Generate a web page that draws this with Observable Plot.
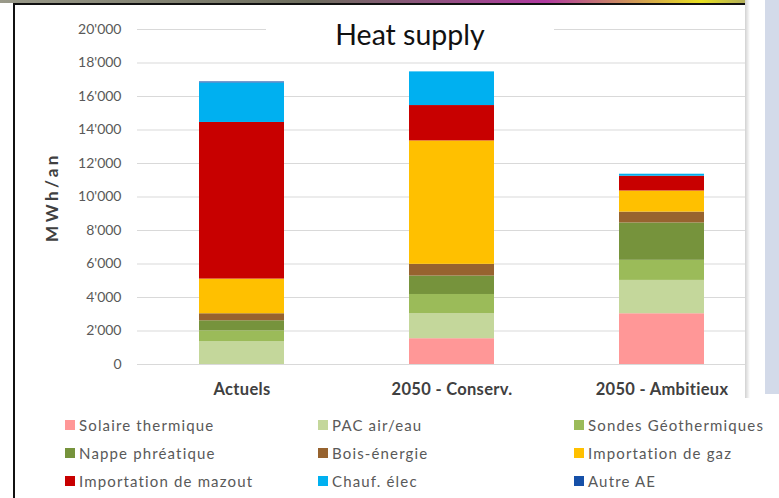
<!DOCTYPE html>
<html>
<head>
<meta charset="utf-8">
<script src="https://cdn.jsdelivr.net/npm/d3@7"></script>
<script src="https://cdn.jsdelivr.net/npm/@observablehq/plot@0.6"></script>
<style>
  html, body { margin: 0; padding: 0; background: #fff; }
  body { width: 779px; height: 498px; position: relative; overflow: hidden; font-family: Lato, "Open Sans", sans-serif; }
  #chart { position: absolute; left: 0; top: 0; }
  #chart svg g[aria-label^="y-axis"] text { font-size: 14px; fill: #595959; }
  #chart svg g[aria-label^="x-axis"] text { font-size: 16.5px; font-weight: bold; fill: #404040; letter-spacing: 0.3px; }
  #chart svg g[aria-label="text"] text { letter-spacing: 3.5px; }
  #title { position: absolute; left: 266px; top: 9px; width: 288px; height: 50px; background: #fff;
           font-size: 28.5px; color: #111; text-align: center; line-height: 50px; }
  #legend { position: absolute; left: 0; top: 0; width: 779px; height: 498px; pointer-events: none; }
  .lg { position: absolute; display: flex; align-items: center; font-size: 15px; color: #595959; white-space: nowrap; letter-spacing: 1.15px; height: 18px; }
  .lg span.sw { width: 10px; height: 10px; margin-right: 4px; flex: none; }
  #topstrip { position: absolute; left: 0; top: 0; width: 779px; height: 3px; background: linear-gradient(90deg, #9a9a8a, #6d6d5d 40%, #b03aa0 70%, #e8e020 90%, #888); }
  #topline { position: absolute; left: 13px; top: 3px; width: 734px; height: 2px; background: #111; }
  #leftline { position: absolute; left: 13px; top: 3px; width: 2px; height: 495px; background: #111; }
  #overlay { position: absolute; left: 745px; top: 0; width: 34px; height: 434px; background: #fff;
             clip-path: polygon(0 0, 100% 0, 100% 434px, 0 398px); }
  #overlayShadow { position: absolute; left: 745px; top: 0; width: 5px; height: 398px; background: linear-gradient(90deg, rgba(0,0,0,0.18), rgba(0,0,0,0)); }
  #panel { position: absolute; left: 765px; top: 0; width: 14px; height: 394px; background: #d3dae9; }
</style>
</head>
<body>
<div id="chart"></div>
<div id="title">Heat supply</div>
<div id="legend"></div>
<div id="topstrip"></div>
<div id="topline"></div>
<div id="leftline"></div>
<div id="overlay"></div>
<div id="overlayShadow"></div>
<div id="panel"></div>
<script>
// ---- Data (MWh/an) ----
const categories = ["Actuels", "2050 - Conserv.", "2050 - Ambitieux"];
const seriesNames = [
  "Solaire thermique", "PAC air/eau", "Sondes Géothermiques",
  "Nappe phréatique", "Bois-énergie", "Importation de gaz",
  "Importation de mazout", "Chauf. élec", "Autre AE"
];
const seriesColors = [
  "#ff9797", "#c4d79b", "#9bbb59",
  "#76933c", "#97632f", "#ffc000",
  "#c80000", "#00b0f0", "#1650a8"
];
const solaire = [0, 1540, 3030];
const pac     = [1370, 1490, 1990];
const sondes  = [640, 1150, 1200];
const nappe   = [600, 1100, 2230];
const bois    = [420, 700, 650];
const gaz     = [2070, 7370, 1260];
const mazout  = [9350, 2110, 880];
const chauf   = [2360, 2010, 120];
const autre   = [60, 0, 0];
const yTicks = [0, 2000, 4000, 6000, 8000, 10000, 12000, 14000, 16000, 18000, 20000];
const yLabel = "MWh/an";

const seriesValues = [solaire, pac, sondes, nappe, bois, gaz, mazout, chauf, autre];
const data = [];
seriesNames.forEach((s, i) => {
  categories.forEach((c, j) => data.push({cat: c, series: s, value: seriesValues[i][j]}));
});

const fmt = d => d3.format(",")(d).replace(/,/g, "'");

const chart = Plot.plot({
  width: 779,
  height: 405,
  marginLeft: 137,
  marginRight: 12,
  marginTop: 29,
  marginBottom: 41,
  style: {fontFamily: "Lato, 'Open Sans', sans-serif", background: "transparent", overflow: "visible"},
  x: {domain: categories, paddingInner: 0.595, paddingOuter: 0.2975, tickSize: 0, tickPadding: 19, label: null},
  y: {domain: [0, 20000], ticks: yTicks, tickSize: 0, tickPadding: 16, tickFormat: fmt, label: null},
  color: {domain: seriesNames, range: seriesColors},
  marks: [
    Plot.ruleY(yTicks, {stroke: "#d9d9d9", strokeWidth: 1}),
    Plot.barY(data, {x: "cat", y: "value", fill: "series"}),
    Plot.text([yLabel], {frameAnchor: "left", dx: -85, rotate: -90, text: d => d, textAnchor: "middle",
      fontWeight: "bold", fontSize: 17, fill: "#404040"})
  ]
});
document.getElementById("chart").appendChild(chart);

// ---- Legend (3 columns x 3 rows) ----
const legend = document.getElementById("legend");
const colX = [65, 318, 574];
const rowY = [425, 453, 481];
seriesNames.forEach((s, i) => {
  const r = Math.floor(i / 3), c = i % 3;
  const div = document.createElement("div");
  div.className = "lg";
  div.style.left = colX[c] + "px";
  div.style.top = (rowY[r] - 9) + "px";
  const sw = document.createElement("span");
  sw.className = "sw";
  sw.style.background = seriesColors[i];
  div.appendChild(sw);
  div.appendChild(document.createTextNode(s));
  legend.appendChild(div);
});
</script>
</body>
</html>
